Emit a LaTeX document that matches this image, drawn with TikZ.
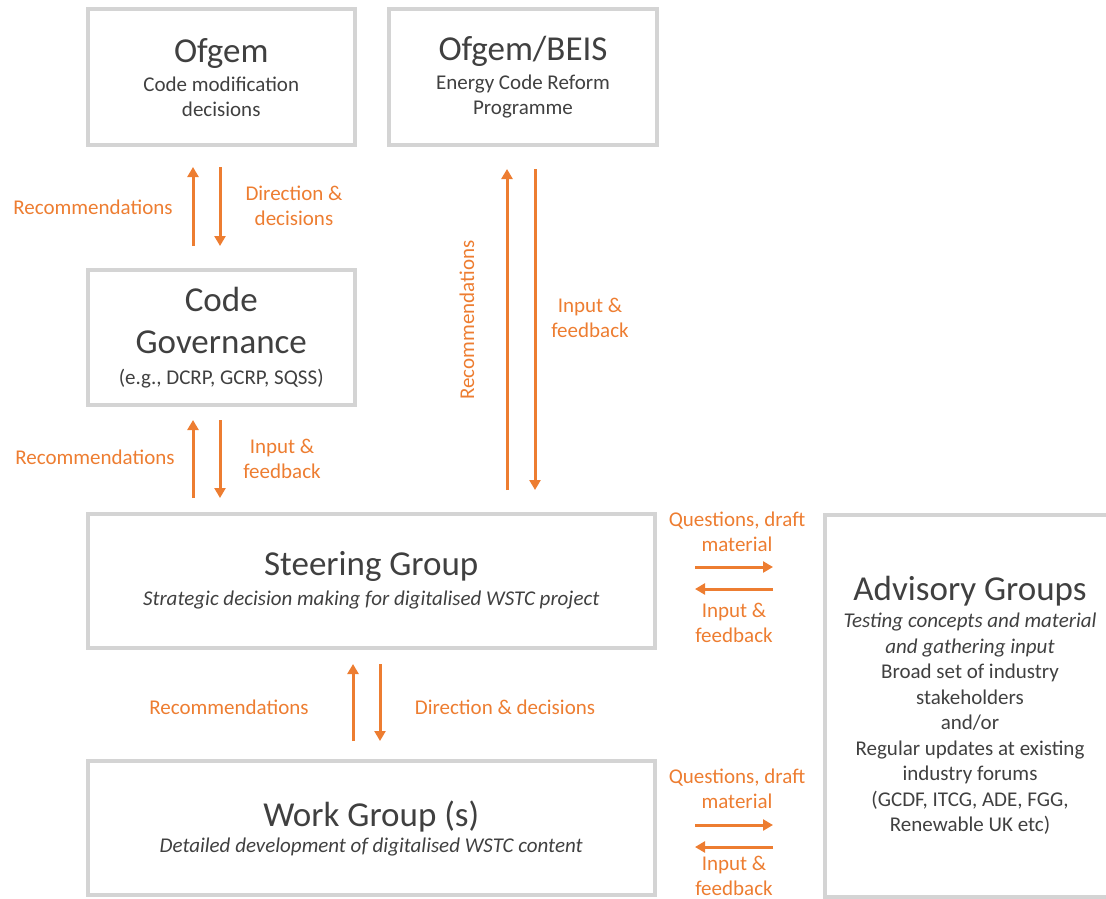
\documentclass[tikz,border=0pt]{standalone}
\usepackage{fontspec}
\setmainfont{Carlito}
\usetikzlibrary{arrows.meta}

\definecolor{boxgrey}{HTML}{D4D4D4}
\definecolor{textgrey}{HTML}{404040}
\definecolor{wstcorange}{HTML}{ED7D31}

\tikzset{
  box/.style={draw=boxgrey, line width=4pt, rectangle, align=center, text=textgrey,
    font=\fontsize{21}{25}\selectfont, inner sep=0pt},
  flow/.style={draw=wstcorange, line width=3pt, -{Triangle[length=10pt,width=11pt]}},
  lbl/.style={text=wstcorange, align=center, font=\fontsize{21}{25}\selectfont, inner sep=0pt}
}
\newcommand{\boxtitle}[1]{{\fontsize{35}{40}\selectfont #1}}

\begin{document}
\begin{tikzpicture}[x=1pt,y=-1pt]
\clip (0,0) rectangle (1106,899);

% top row
\node[box, minimum width=267.5pt, minimum height=135.5pt] (ofgem) at (221.25,77.25)
  {\boxtitle{Ofgem}\\[4pt]Code modification\\decisions};
\node[box, minimum width=268pt, minimum height=135.5pt] (beis) at (523,77.25)
  {\boxtitle{Ofgem/BEIS}\\[4pt]Energy Code Reform\\Programme};

% code governance
\node[box, minimum width=267.5pt, minimum height=135pt] (codegov) at (221.25,337.5)
  {\boxtitle{Code}\\[17pt]\boxtitle{Governance}\\[6pt](e.g., DCRP, GCRP, SQSS)};

% steering and work groups
\node[box, minimum width=567.5pt, minimum height=133.5pt] (steer) at (371.25,580.75)
  {\boxtitle{Steering Group}\\[5pt]\textit{Strategic decision making for digitalised WSTC project}};
\node[box, minimum width=567.5pt, minimum height=134pt] (work) at (371.25,828)
  {\boxtitle{Work Group (s)}\\[1pt]\textit{Detailed development of digitalised WSTC content}};

% advisory groups
\node[box, minimum width=290pt, minimum height=382pt, font=\fontsize{21}{25.5}\selectfont] (advisory) at (970,705.5)
  {\boxtitle{Advisory Groups}\\[1.5pt]\textit{Testing concepts and material}\\\textit{and gathering input}\\
   Broad set of industry\\stakeholders\\and/or\\Regular updates at existing\\industry forums\\
   (GCDF, ITCG, ADE, FGG,\\Renewable UK etc)};

% ofgem <-> code governance
\coordinate (cgUp) at ([xshift=-28.25pt]codegov.north);
\coordinate (cgDown) at ([xshift=-1.25pt]ofgem.south);
\draw[flow, shorten <=22pt, shorten >=20pt] (cgUp) -- (cgUp |- ofgem.south);
\draw[flow, shorten <=20pt, shorten >=22pt] (cgDown) -- (cgDown |- codegov.north);
\node[lbl] (recOfgem) at (93,207) {Recommendations};
\node[lbl] (dirOfgem) at (294,205.5) {Direction \&\\decisions};

% code governance <-> steering
\coordinate (stUp) at ([xshift=-28.25pt]codegov.south);
\coordinate (stDown) at ([xshift=-1.25pt]codegov.south);
\draw[flow, shorten <=14pt, shorten >=13pt] (stUp |- steer.north) -- (stUp);
\draw[flow, shorten <=13pt, shorten >=14pt] (stDown) -- (stDown |- steer.north);
\node[lbl] (recCode) at (95,457) {Recommendations};
\node[lbl] (inCode) at (282,459) {Input \&\\feedback};

% ofgem/beis <-> steering
\coordinate (bsUp) at ([xshift=-16pt]beis.south);
\coordinate (bsDown) at ([xshift=12pt]beis.south);
\draw[flow, shorten <=22pt, shorten >=22pt] (bsUp |- steer.north) -- (bsUp);
\draw[flow, shorten <=22pt, shorten >=22pt] (bsDown) -- (bsDown |- steer.north);
\node[lbl, rotate=90] (recBeis) at (467,320) {Recommendations};
\node[lbl] (inBeis) at (590,317.5) {Input \&\\feedback};

% steering <-> work group
\coordinate (wgUp) at ([xshift=-18.25pt]steer.south);
\coordinate (wgDown) at ([xshift=8.75pt]steer.south);
\draw[flow, shorten <=18pt, shorten >=14.5pt] (wgUp |- work.north) -- (wgUp);
\draw[flow, shorten <=14.5pt, shorten >=18pt] (wgDown) -- (wgDown |- work.north);
\node[lbl] (recWork) at (229,707) {Recommendations};
\node[lbl] (dirWork) at (505,707) {Direction \& decisions};

% steering <-> advisory
\coordinate (saOut) at ([yshift=13.75pt]steer.east);
\coordinate (saIn) at ([yshift=-8.25pt]steer.east);
\draw[flow, shorten <=38pt, shorten >=50pt] (saOut) -- (saOut -| advisory.west);
\draw[flow, shorten <=50pt, shorten >=38pt] (saIn -| advisory.west) -- (saIn);
\node[lbl] (qSteer) at (737,531.5) {Questions, draft\\material};
\node[lbl] (inSteer) at (734,622.5) {Input \&\\feedback};

% work group <-> advisory
\coordinate (waOut) at ([yshift=3pt]work.east);
\coordinate (waIn) at ([yshift=-19pt]work.east);
\draw[flow, shorten <=38pt, shorten >=50pt] (waOut) -- (waOut -| advisory.west);
\draw[flow, shorten <=50pt, shorten >=38pt] (waIn -| advisory.west) -- (waIn);
\node[lbl] (qWork) at (737,788.5) {Questions, draft\\material};
\node[lbl] (inWork) at (734,876) {Input \&\\feedback};
\end{tikzpicture}
\end{document}
